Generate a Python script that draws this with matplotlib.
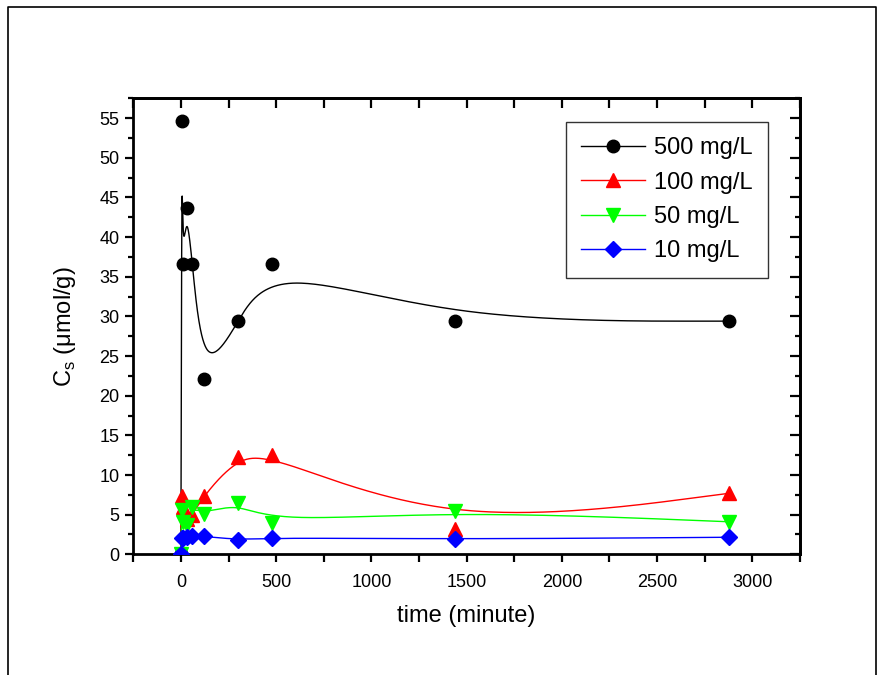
import numpy as np
import matplotlib
matplotlib.use("Agg")
import matplotlib.pyplot as plt
from matplotlib.lines import Line2D
from matplotlib.ticker import MultipleLocator

plt.rcParams["font.family"] = ["Liberation Sans", "DejaVu Sans"]
plt.rcParams["mathtext.fontset"] = "custom"
plt.rcParams["mathtext.rm"] = "Liberation Sans"

# sampling times (minute)
time_min = [0, 5, 10, 30, 60, 120, 300, 480, 1440, 2880]

# Cs (umol/g) for each initial concentration
cs_500 = [0, 54.6, 36.6, 43.7, 36.6, 22.1, 29.4, 36.6, 29.4, 29.4]
cs_100 = [0, 7.4, 6.0, 4.4, 5.0, 7.4, 12.3, 12.5, 3.2, 7.7]
cs_50 = [0, 5.6, 4.1, 3.7, 6.0, 5.1, 6.5, 4.0, 5.5, 4.1]
cs_10 = [0, 2.0, 2.0, 2.2, 2.3, 2.3, 1.8, 2.1, 1.9, 2.15]

labels = ["500 mg/L", "100 mg/L", "50 mg/L", "10 mg/L"]
colors = ["black", "#ff0000", "#00ff00", "#0000ff"]
markers = ["o", "^", "v", "D"]
msizes = [9, 10, 10, 8]


def bspline(x, y, n=800):
    # uniform cubic B-spline through the data as control points,
    # end points repeated so the curve starts and ends on them
    P = np.column_stack([x, y]).astype(float)
    P = np.vstack([P[:1], P[:1], P, P[-1:], P[-1:]])
    nseg = len(P) - 3
    t = np.linspace(0, nseg, n)
    seg = np.minimum(t.astype(int), nseg - 1)
    u = (t - seg)[:, None]
    b0 = (1 - u) ** 3 / 6
    b1 = (3 * u ** 3 - 6 * u ** 2 + 4) / 6
    b2 = (-3 * u ** 3 + 3 * u ** 2 + 3 * u + 1) / 6
    b3 = u ** 3 / 6
    C = b0 * P[seg] + b1 * P[seg + 1] + b2 * P[seg + 2] + b3 * P[seg + 3]
    return C[:, 0], C[:, 1]


fig = plt.figure(figsize=(8.82, 6.75), dpi=100)
ax = fig.add_axes([0.1511, 0.1788, 0.7559, 0.6756])

series = [cs_500, cs_100, cs_50, cs_10]
handles = []
for ys, lab, c, mk, ms in zip(series, labels, colors, markers, msizes):
    bx, by = bspline(time_min, ys)
    ax.plot(bx, by, color=c, lw=1.0, zorder=2)
    ax.plot(time_min, ys, ls="none", marker=mk, ms=ms, color=c, mec=c, zorder=3)
    handles.append(Line2D([], [], color=c, lw=1.0, marker=mk, ms=ms, mec=c))

ax.set_xlim(-250, 3250)
ax.set_ylim(0, 57.5)
ax.xaxis.set_major_locator(MultipleLocator(500))
ax.xaxis.set_minor_locator(MultipleLocator(250))
ax.yaxis.set_major_locator(MultipleLocator(5))
ax.yaxis.set_minor_locator(MultipleLocator(2.5))
ax.tick_params(which="both", direction="out", top=False, right=False,
               width=1.6, labelsize=13)
ax.tick_params(axis="x", which="major", length=6, pad=8)
ax.tick_params(axis="x", which="minor", length=6)
ax.tick_params(axis="y", which="major", length=6, pad=4)
ax.tick_params(axis="y", which="minor", length=3.5)
for s in ax.spines.values():
    s.set_linewidth(2)

top = ax.secondary_xaxis("top")
top.xaxis.set_major_locator(MultipleLocator(250))
top.tick_params(direction="in", length=7, width=1.6, labeltop=False)
top.spines["top"].set_linewidth(2)

right = ax.secondary_yaxis("right")
right.yaxis.set_major_locator(MultipleLocator(5))
right.yaxis.set_minor_locator(MultipleLocator(2.5))
right.tick_params(which="major", direction="in", length=7, width=1.6, labelright=False)
right.tick_params(which="minor", direction="in", length=3.5, width=1.6)
right.spines["right"].set_linewidth(2)

ax.set_xlabel("time (minute)", fontsize=17, labelpad=10)
ax.set_ylabel("C$_\\mathrm{s}$ (μmol/g)", fontsize=17, labelpad=15)

leg = ax.legend(handles, labels, loc="upper right", bbox_to_anchor=(0.952, 0.948),
                borderaxespad=0, fontsize=17, frameon=True, fancybox=False,
                handlelength=2.7, labelspacing=0.52, handletextpad=0.38,
                borderpad=0.65)
leg.get_frame().set_edgecolor("black")
leg.get_frame().set_linewidth(1.0)

# outer frame of the page
fig.add_artist(Line2D([0.0091, 0.0091, 0.993, 0.993], [0.0, 0.9896, 0.9896, 0.0],
                      color="black", lw=1.2, transform=fig.transFigure))

fig.savefig("out.png", dpi=100)
